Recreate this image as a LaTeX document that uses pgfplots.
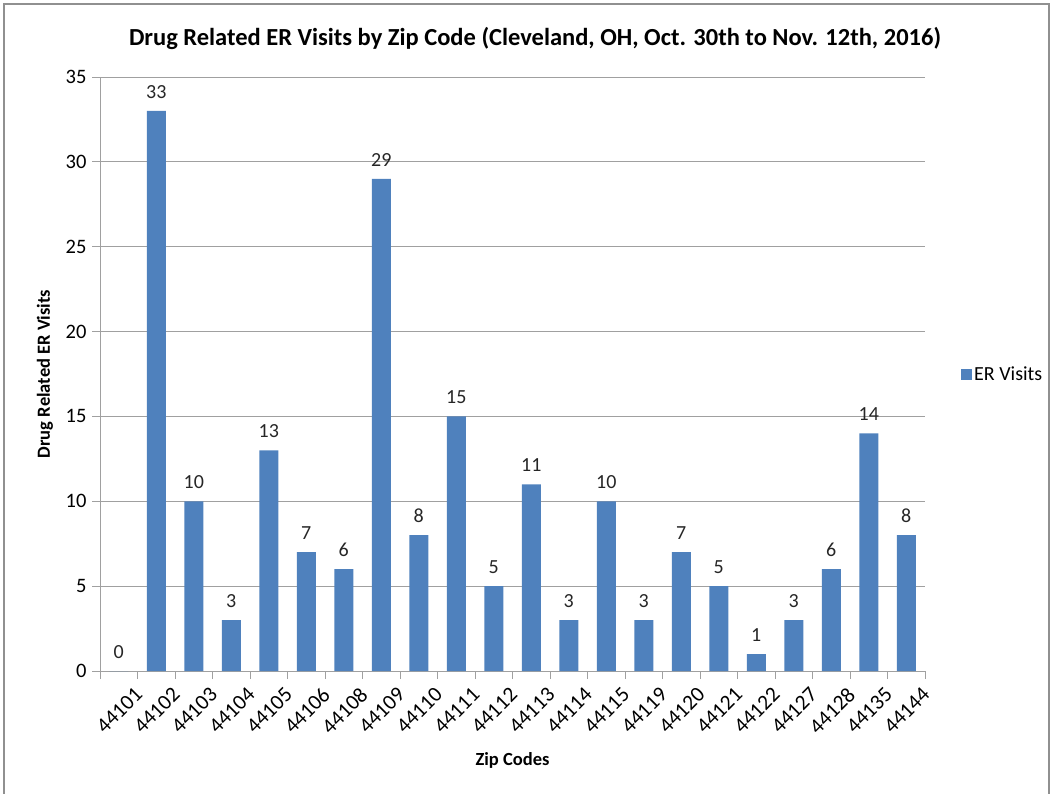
\documentclass[border=0pt]{standalone}
\usepackage{pgfplots}
\pgfplotsset{compat=1.18}
\usepackage{fontspec}
\setmainfont{Carlito}
\definecolor{barblue}{HTML}{4F81BD}
\definecolor{gridgray}{HTML}{A0A0A0}
\begin{document}
\begin{tikzpicture}[x=1pt,y=1pt]
\useasboundingbox (0,0) rectangle (1052,793);
\draw[color=gridgray!90!black, line width=1.2pt] (4,-2) rectangle (1049,789);
\node[font=\fontsize{24.5}{28}\selectfont\bfseries] at (535,755) {Drug Related ER Visits by Zip Code (Cleveland, OH, Oct. 30th to Nov. 12th, 2016)};
\begin{axis}[
  at={(100pt,122pt)},
  scale only axis, width=825pt, height=594pt,
  anchor=south west,
  ymin=0, ymax=35, ytick={0,5,...,35},
  xmin=-0.5, xmax=21.5,
  xtick={0,...,21},
  xticklabels={44101,44102,44103,44104,44105,44106,44108,44109,44110,44111,44112,44113,44114,44115,44119,44120,44121,44122,44127,44128,44135,44144},
  minor xtick={-0.5,0.5,...,21.5},
  major x tick style={draw=none},
  minor x tick style={draw=gridgray, line width=0.9pt},
  minor tick length=8pt,
  major tick length=8pt,
  tick align=outside,
  ytick style={draw=gridgray, line width=0.9pt},
  axis x line*=bottom, axis y line*=left,
  axis line style={draw=gridgray, line width=0.9pt, -},
  ymajorgrids, grid style={draw=gridgray, line width=0.8pt},
  yticklabel style={font=\fontsize{20.5}{23}\selectfont, xshift=-2pt},
  xticklabel style={font=\fontsize{21.5}{24}\selectfont, rotate=45, anchor=north east, xshift=9pt, yshift=-12pt},
  /pgf/number format/assume math mode=true,
  ylabel={\bfseries Drug Related ER Visits},
  ylabel style={font=\fontsize{18.5}{21}\selectfont, at={(axis description cs:0,0.5)}, anchor=center, yshift=55pt},
  xlabel={\bfseries Zip Codes},
  xlabel style={font=\fontsize{18.5}{21}\selectfont, at={(axis description cs:0.5,0)}, anchor=center, yshift=-89pt},
  ybar, bar width=19pt,
  nodes near coords,
  every node near coord/.append style={font=\fontsize{20}{22}\selectfont, color=black!85, yshift=9pt},
  legend style={at={(1.04,0.5)}, anchor=west, draw=none, fill=none, font=\fontsize{20}{22}\selectfont},
  legend image code/.code={\fill[barblue] (0pt,-5.5pt) rectangle (11pt,5.5pt);},
]
\addplot[fill=barblue, draw=none] coordinates {
(0,0) (1,33) (2,10) (3,3) (4,13) (5,7) (6,6) (7,29) (8,8) (9,15) (10,5)
(11,11) (12,3) (13,10) (14,3) (15,7) (16,5) (17,1) (18,3) (19,6) (20,14) (21,8)};
\addlegendentry{ER Visits}
\end{axis}
\end{tikzpicture}
\end{document}
